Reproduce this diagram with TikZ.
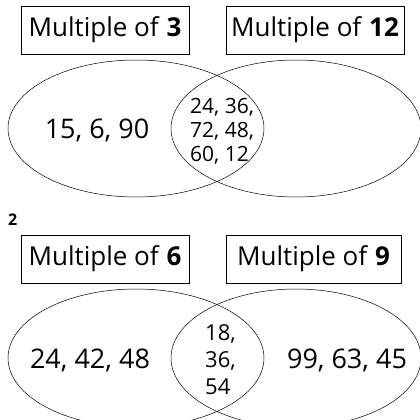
\documentclass[tikz,border=0pt]{standalone}
\usepackage{fontspec}
\setmainfont{Open Sans}
\usetikzlibrary{positioning}

\begin{document}
\begin{tikzpicture}[
    x=1pt, y=-1pt,
    setname/.style={rectangle, draw, line width=0.7pt, minimum height=48pt, inner sep=0pt, font=\fontsize{26}{30}\selectfont},
    region/.style={font=\fontsize{27}{30}\selectfont},
    overlap/.style={anchor=west, align=left, inner sep=0pt},
    circle set/.style={line width=0.5pt}
]
\useasboundingbox (0,0) rectangle (420,420);
\clip (0,0) rectangle (420,420);

% First diagram
\node[setname, minimum width=168pt] (three) at (105,30) {Multiple of \textbf{3}};
\node[setname, minimum width=178pt] (twelve) at (315,30) {Multiple of \textbf{12}};

\draw[circle set] (136,128.5) ellipse [x radius=128, y radius=68.5];
\draw[circle set] (296,128.5) ellipse [x radius=125, y radius=68.5];

\node[region] (onlythree) at (97,130) {15, 6, 90};
\node[overlap, font=\fontsize{21}{24}\selectfont] (both) at (190,131) {24, 36,\\72, 48,\\60, 12};

% Second diagram
\node[font=\fontsize{16}{18}\selectfont\bfseries, anchor=west, inner sep=0pt] (num) at (8,220) {2};

\node[setname, minimum width=168pt] (six) at (105,259) {Multiple of \textbf{6}};
\node[setname, minimum width=175pt] (nine) at (313.5,259) {Multiple of \textbf{9}};

\draw[circle set] (136,358) ellipse [x radius=128, y radius=69];
\draw[circle set] (296,358) ellipse [x radius=125, y radius=69];

\node[region] (onlysix) at (90,360) {24, 42, 48};
\node[overlap, font=\fontsize{22}{27}\selectfont] (common) at (205,360) {18,\\36,\\54};
\node[region] (onlynine) at (347,360) {99, 63, 45};

\end{tikzpicture}
\end{document}
